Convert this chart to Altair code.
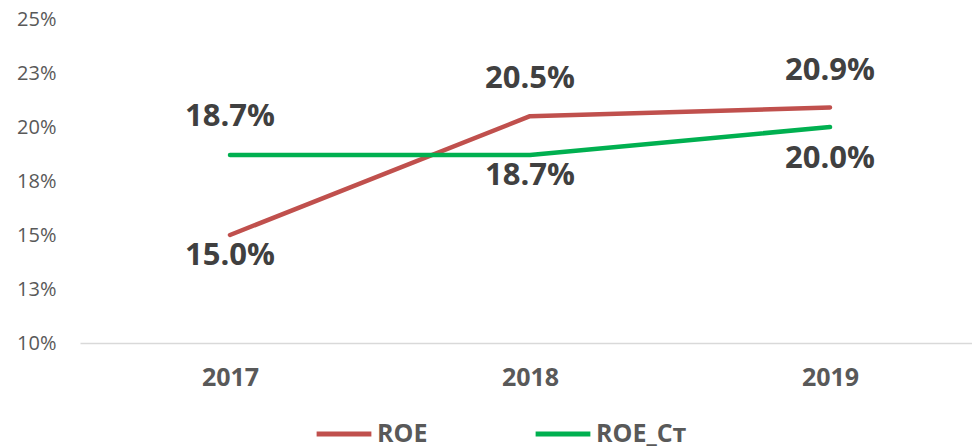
import altair as alt
import pandas as pd

years = [2017, 2018, 2019]
roe = [15.0, 20.5, 20.9]
roe_st = [18.7, 18.7, 20.0]
series_names = ["ROE", "ROE_Ст"]
series_colors = ["#C0504D", "#00B050"]
y_ticks = [10, 12.5, 15, 17.5, 20, 22.5, 25]

rows = []
for name, vals in zip(series_names, [roe, roe_st]):
    for yr, v in zip(years, vals):
        rows.append({"year": yr, "value": v, "series": name})
df = pd.DataFrame(rows)

# label vertical offsets (style, not data)
label_dy = {
    ("ROE", 2017): 21, ("ROE", 2018): -37, ("ROE", 2019): -37,
    ("ROE_Ст", 2017): -38, ("ROE_Ст", 2018): 21, ("ROE_Ст", 2019): 32,
}

FONT = "Open Sans"

x_enc = alt.X("year:Q",
              scale=alt.Scale(domain=[2016.5, 2019.4733], nice=False, zero=False),
              axis=alt.Axis(values=years, format="d", title=None, ticks=False, grid=False,
                            domainColor="#D9D9D9", domainWidth=1.5,
                            labelFont=FONT, labelFontSize=25, labelFontWeight="bold",
                            labelColor="#595959", labelPadding=22, labelFlush=False))
y_enc = alt.Y("value:Q",
              scale=alt.Scale(domain=[10, 25], nice=False, zero=False),
              axis=alt.Axis(values=y_ticks, labelExpr="format(datum.value, '.0f') + '%'",
                            title=None, ticks=False, grid=False, domain=False,
                            labelFont=FONT, labelFontSize=20, labelColor="#595959",
                            labelPadding=24))

lines = alt.Chart(df).mark_line(strokeWidth=4.5, strokeCap="round", strokeJoin="round").encode(
    x=x_enc, y=y_enc,
    color=alt.Color("series:N",
                    scale=alt.Scale(domain=series_names, range=series_colors),
                    legend=alt.Legend(title=None, orient="none", direction="horizontal",
                                      legendX=234, legendY=385,
                                      symbolType="stroke", symbolSize=3000, symbolStrokeWidth=5,
                                      labelFont=FONT, labelFontSize=25, labelFontWeight="bold",
                                      labelColor="#595959", labelOffset=3, columnPadding=97)),
)

layers = [lines]
for (s, yr), dy in label_dy.items():
    t = alt.Chart(df).transform_filter(
        (alt.datum.series == s) & (alt.datum.year == yr)
    ).transform_calculate(
        lbl="format(datum.value, '.1f') + '%'"
    ).mark_text(font=FONT, fontSize=31, fontWeight="bold", color="#404040",
                baseline="middle", align="center", dy=dy).encode(
        x=alt.X("year:Q"), y=alt.Y("value:Q"), text="lbl:N",
    )
    layers.append(t)

chart = alt.layer(*layers).properties(
    width=892, height=324,
    background="white",
    autosize=alt.AutoSizeParams(type="none"),
    padding={"left": 80, "top": 19, "right": 0, "bottom": 105},
).configure_view(strokeWidth=0, stroke=None)

chart.save("out.html", embed_options={"renderer": "svg", "actions": False})
